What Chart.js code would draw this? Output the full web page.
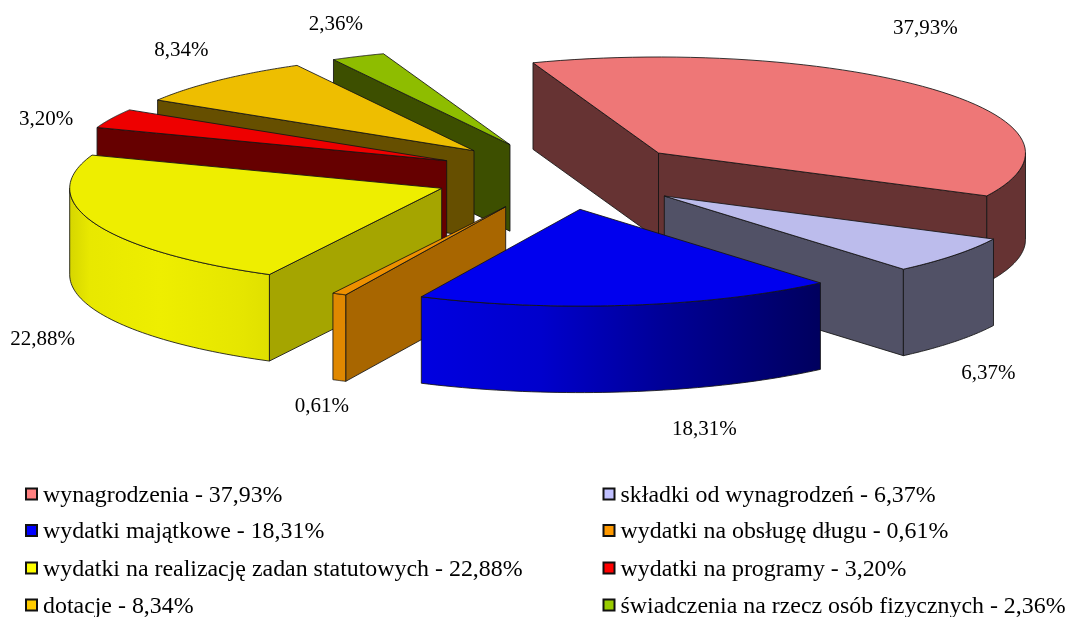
<!DOCTYPE html>
<html><head><meta charset="utf-8">
<style>html,body{margin:0;padding:0;background:#fff}#w{width:1069px;height:617px;position:relative}</style>
<script src="https://cdn.jsdelivr.net/npm/chart.js@4"></script>
</head><body><div id="w"><canvas id="c" width="1069" height="617"></canvas></div>
<script>
const categories = ["wynagrodzenia","składki od wynagrodzeń","wydatki majątkowe","wydatki na obsługę długu","wydatki na realizację zadan statutowych","wydatki na programy","dotacje","świadczenia na rzecz osób fizycznych"];
const shares = [37.93,6.37,18.31,0.61,22.88,3.20,8.34,2.36];
const shareText = ["37,93%","6,37%","18,31%","0,61%","22,88%","3,20%","8,34%","2,36%"];

const topColors = ["#EE7777","#BCBCEC","#0000EE","#EE9000","#EEEE00","#EE0000","#EEBE00","#8EBD00"];
const radialWallColors = ["#663333","#515166","#000090","#A86600","#A5A500","#660000","#664F00","#3D4F00"];
const keyColors = ["#FF8080","#C0C0FF","#0000FF","#FF9900","#FFFF00","#FF0000","#FFCC00","#99CC00"];
const rimStops = [
  [[0,"#663333"],[1,"#663333"]],
  [[0,"#515166"],[1,"#515166"]],
  [[0,"#0000E0"],[0.3,"#0000CC"],[0.6,"#000098"],[1,"#00005E"]],
  [[0,"#E08800"],[1,"#E08800"]],
  [[0,"#D6D600"],[0.1,"#E8E800"],[0.45,"#EEEE00"],[0.85,"#E6E600"],[1,"#E0E000"]],
  [[0,"#660000"],[1,"#660000"]],
  [[0,"#664F00"],[1,"#664F00"]],
  [[0,"#3D4F00"],[1,"#3D4F00"]]
];
const scene = {
  originDx: 22.5, originDy: -130.5, tilt: 0.2616, depth: 86.5,
  reach: [367,368,370,373,372,372,371,370],
  explodeX: [101.5,107.3,23,-51.3,-115.3,-110.3,-83,-47],
  explodeY: [-25,18,31.3,28.7,10.3,-17.3,-27.3,-33.3],
  labelDx: [-7,35,76,-20,-57,-70,-40,-23.5],
  labelDy: [-61,118,125,114,116,0,-31,-33],
  paintOrder: [0,7,6,5,4,3,1,2],
  keyRows: [501.5,538,575.5,612.5], keyColumns: [25,602.5], keyText: 18
};
const serif = '"Liberation Serif","Times New Roman",serif';

const pie3d = {
  id: 'pie3d',
  beforeDatasetDraw(chart, args) {
    const ctx = chart.ctx, arcs = args.meta.data;
    const k = scene.tilt, H = scene.depth;
    const outlined = () => { ctx.lineWidth = 1; ctx.strokeStyle = 'rgba(20,20,20,0.85)'; ctx.stroke(); };
    for (const i of scene.paintOrder) {
      const arc = arcs[i];
      const R0 = scene.reach[i];
      const s = R0 / arc.outerRadius;
      const ax = arc.x + scene.originDx + scene.explodeX[i];
      const ay = arc.y + scene.originDy + scene.explodeY[i];
      const a0 = arc.startAngle, a1 = arc.endAngle;
      const px = a => ax + R0 * Math.cos(a), py = a => ay + R0 * k * Math.sin(a);
      const radial = a => {
        ctx.beginPath();
        ctx.moveTo(ax, ay); ctx.lineTo(px(a), py(a));
        ctx.lineTo(px(a), py(a) + H); ctx.lineTo(ax, ay + H); ctx.closePath();
        ctx.fillStyle = radialWallColors[i]; ctx.fill(); outlined();
      };
      if (Math.cos(a0) < 0) radial(a0);
      if (Math.cos(a1) > 0) radial(a1);
      // curved rim: only the part facing the viewer
      const from = Math.max(a0, a0 > Math.PI ? 2*Math.PI : 0);
      const to = Math.min(a1, a0 > Math.PI ? 3*Math.PI : Math.PI);
      if (to > from) {
        const N = 48;
        let minX = Infinity, maxX = -Infinity;
        ctx.beginPath();
        for (let n = 0; n <= N; n++) {
          const a = from + (to - from) * n / N, x = px(a);
          minX = Math.min(minX, x); maxX = Math.max(maxX, x);
          n ? ctx.lineTo(x, py(a)) : ctx.moveTo(x, py(a));
        }
        for (let n = N; n >= 0; n--) {
          const a = from + (to - from) * n / N;
          ctx.lineTo(px(a), py(a) + H);
        }
        ctx.closePath();
        const g = ctx.createLinearGradient(minX, 0, maxX, 0);
        rimStops[i].forEach(st => g.addColorStop(st[0], st[1]));
        ctx.fillStyle = g; ctx.fill(); outlined();
      }
      // top face: the library's own arc under the tilt transform
      ctx.save();
      ctx.translate(ax, ay); ctx.scale(s, s * k); ctx.translate(-arc.x, -arc.y);
      arc.draw(ctx);
      ctx.restore();
      ctx.beginPath();
      ctx.moveTo(ax, ay);
      for (let n = 0; n <= 60; n++) {
        const a = a0 + (a1 - a0) * n / 60;
        ctx.lineTo(px(a), py(a));
      }
      ctx.closePath(); outlined();
    }
    // value labels
    ctx.fillStyle = '#000'; ctx.font = '21px ' + serif;
    ctx.textAlign = 'center'; ctx.textBaseline = 'middle';
    arcs.forEach((arc, i) => {
      const m = (arc.startAngle + arc.endAngle) / 2;
      const x = arc.x + scene.originDx + scene.explodeX[i] + 367 * Math.cos(m) + scene.labelDx[i];
      const y = arc.y + scene.originDy + scene.explodeY[i] + 367 * k * Math.sin(m) + scene.labelDy[i];
      ctx.fillText(shareText[i], x, y);
    });
    return false;
  },
  afterDraw(chart) {
    const ctx = chart.ctx;
    ctx.save();
    ctx.font = '23.9px ' + serif; ctx.textAlign = 'left'; ctx.textBaseline = 'alphabetic';
    categories.forEach((c, i) => {
      const col = i % 2, row = (i - col) / 2;
      const x = scene.keyColumns[col], base = scene.keyRows[row];
      ctx.fillStyle = keyColors[i]; ctx.strokeStyle = '#111'; ctx.lineWidth = 2;
      ctx.fillRect(x + 1, base - 13, 11, 11); ctx.strokeRect(x + 1, base - 13, 11, 11);
      ctx.fillStyle = '#000';
      ctx.fillText(c + ' - ' + shareText[i], x + scene.keyText, base);
    });
    ctx.restore();
  }
};

new Chart(document.getElementById('c'), {
  type: 'pie',
  data: { labels: categories, datasets: [{ data: shares, backgroundColor: topColors, borderWidth: 0 }] },
  options: {
    responsive: false, animation: false, rotation: -20,
    plugins: { legend: { display: false }, tooltip: { enabled: false } }
  },
  plugins: [pie3d]
});
</script></body></html>
